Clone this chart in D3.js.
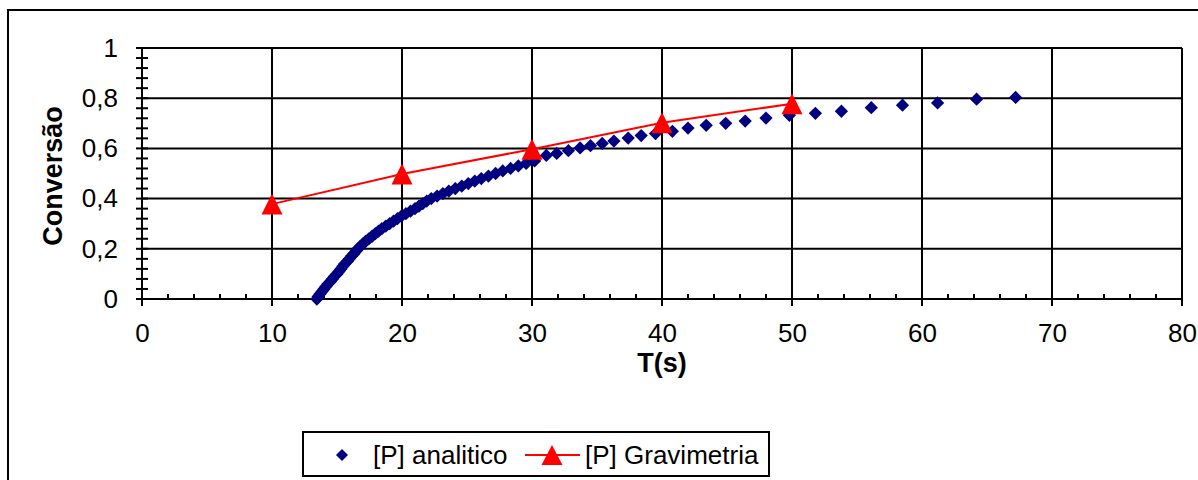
<!DOCTYPE html>
<html>
<head>
<meta charset="utf-8">
<script src="https://cdn.jsdelivr.net/npm/d3@7"></script>
<style>
  body { margin: 0; background: #fff; }
  text { font-family: "Liberation Sans", Arial, sans-serif; }
</style>
</head>
<body>
<div id="chart"></div>
<script>
// data
var analiticoT = [13.45, 13.55, 13.7, 13.85, 14.0, 14.15, 14.3, 14.5, 14.65, 14.8,
  15.0, 15.15, 15.3, 15.45, 15.6, 15.8, 15.95, 16.1, 16.3, 16.45,
  16.6, 16.8, 17.0, 17.2, 17.45, 17.7, 17.95, 18.2, 18.45, 18.75,
  19.05, 19.35, 19.65, 19.95, 20.3, 20.65, 21.0, 21.3, 21.6, 21.9,
  22.25, 22.7, 23.15, 23.6, 24.1, 24.6, 25.1, 25.6, 26.1, 26.65,
  27.2, 27.75, 28.35, 28.95, 29.55, 30.2, 31.1, 31.9, 32.8, 33.7,
  34.5, 35.4, 36.3, 37.4, 38.4, 39.5, 40.8, 42.0, 43.4, 44.9,
  46.4, 48.0, 49.8, 51.8, 53.8, 56.1, 58.5, 61.2, 64.2, 67.2];
var analiticoC = [0.0, 0.01, 0.02, 0.03, 0.04, 0.05, 0.06, 0.07, 0.08, 0.09,
  0.10, 0.11, 0.12, 0.13, 0.14, 0.15, 0.16, 0.17, 0.18, 0.19,
  0.20, 0.21, 0.22, 0.23, 0.24, 0.25, 0.26, 0.27, 0.28, 0.29,
  0.30, 0.31, 0.32, 0.33, 0.34, 0.35, 0.36, 0.37, 0.38, 0.39,
  0.40, 0.41, 0.42, 0.43, 0.44, 0.45, 0.46, 0.47, 0.48, 0.49,
  0.50, 0.51, 0.52, 0.53, 0.54, 0.55, 0.572, 0.580, 0.591, 0.602,
  0.611, 0.620, 0.629, 0.641, 0.651, 0.659, 0.668, 0.681, 0.692, 0.700,
  0.709, 0.721, 0.732, 0.740, 0.748, 0.762, 0.772, 0.781, 0.796, 0.803];

var gravT = [10, 20, 30, 40, 50];
var gravC = [0.378, 0.498, 0.597, 0.702, 0.778];

var xTicks = [0, 10, 20, 30, 40, 50, 60, 70, 80];
var yTicks = [0, 0.2, 0.4, 0.6, 0.8, 1];

var W = 1198, H = 480;
var plot = {left: 142, right: 1182, top: 48, bottom: 299};

var svg = d3.select("#chart").append("svg")
  .attr("width", W).attr("height", H);

// outer chart frame (runs off right/bottom)
svg.append("rect")
  .attr("x", 8).attr("y", 10)
  .attr("width", W + 20).attr("height", H + 20)
  .attr("fill", "#fff").attr("stroke", "#000").attr("stroke-width", 2);

var x = d3.scaleLinear().domain([0, 80]).range([plot.left, plot.right]);
var y = d3.scaleLinear().domain([0, 1]).range([plot.bottom, plot.top]);

// gridlines
svg.append("g").selectAll("line").data(yTicks).enter().append("line")
  .attr("x1", plot.left).attr("x2", plot.right)
  .attr("y1", d => y(d)).attr("y2", d => y(d))
  .attr("stroke", "#000").attr("stroke-width", 2);
svg.append("g").selectAll("line").data(xTicks).enter().append("line")
  .attr("x1", d => x(d)).attr("x2", d => x(d))
  .attr("y1", plot.top).attr("y2", plot.bottom)
  .attr("stroke", "#000").attr("stroke-width", 2);

// x axis: minor ticks inward, labels below
var xMinor = d3.range(0, 81, 2);
svg.append("g").selectAll("line").data(xMinor).enter().append("line")
  .attr("x1", d => x(d)).attr("x2", d => x(d))
  .attr("y1", plot.bottom - 5).attr("y2", d => d % 10 === 0 ? plot.bottom + 7 : plot.bottom)
  .attr("stroke", "#000").attr("stroke-width", 2);

var xAxis = d3.axisBottom(x).tickValues(xTicks).tickSize(0).tickPadding(0)
  .tickFormat(d3.format("d"));
svg.append("g")
  .attr("transform", "translate(0," + plot.bottom + ")")
  .call(xAxis)
  .call(g => g.select(".domain").remove())
  .call(g => g.selectAll("text").attr("font-size", 26).attr("fill", "#000")
    .attr("dy", null).attr("y", 43));

// y axis: minor ticks crossing the axis
var yMinor = d3.range(0, 26).map(i => i * 0.04);
svg.append("g").selectAll("line").data(yMinor).enter().append("line")
  .attr("x1", plot.left - 6).attr("x2", plot.left + 6)
  .attr("y1", d => y(d)).attr("y2", d => y(d))
  .attr("stroke", "#000").attr("stroke-width", 2);

var yAxis = d3.axisLeft(y).tickValues(yTicks).tickSize(0).tickPadding(24)
  .tickFormat(d => d3.format("")(d).replace(".", ","));
svg.append("g")
  .attr("transform", "translate(" + plot.left + ",0)")
  .call(yAxis)
  .call(g => g.select(".domain").remove())
  .call(g => g.selectAll("text").attr("font-size", 26).attr("fill", "#000"));

// axis titles
svg.append("text")
  .attr("x", (plot.left + plot.right) / 2).attr("y", 372)
  .attr("text-anchor", "middle")
  .attr("font-size", 27).attr("font-weight", "bold")
  .text("T(s)");
svg.append("text")
  .attr("transform", "translate(62," + 176 + ") rotate(-90)")
  .attr("text-anchor", "middle")
  .attr("font-size", 27).attr("font-weight", "bold")
  .text("Conversão");

// analitico diamonds
var analitico = analiticoT.map((t, i) => ({t: t, c: analiticoC[i]}));
var diamond = d3.symbol().type(d3.symbolSquare).size(88);
svg.append("g").selectAll("path").data(analitico).enter().append("path")
  .attr("d", diamond)
  .attr("transform", d => "translate(" + x(d.t) + "," + y(d.c) + ") rotate(45)")
  .attr("fill", "#000080");

// gravimetria line + triangles
var grav = gravT.map((t, i) => ({t: t, c: gravC[i]}));
svg.append("path")
  .datum(grav)
  .attr("d", d3.line().x(d => x(d.t)).y(d => y(d.c)))
  .attr("fill", "none").attr("stroke", "#ff0000").attr("stroke-width", 2);

function tri(cx, cy, w, h) {
  return "M" + cx + "," + (cy - h / 2) + "L" + (cx + w / 2) + "," + (cy + h / 2) +
    "L" + (cx - w / 2) + "," + (cy + h / 2) + "Z";
}
svg.append("g").selectAll("path").data(grav).enter().append("path")
  .attr("d", d => tri(x(d.t), y(d.c), 21, 21))
  .attr("fill", "#ff0000");

// legend
var leg = svg.append("g");
leg.append("rect")
  .attr("x", 303).attr("y", 432).attr("width", 466).attr("height", 44)
  .attr("fill", "#fff").attr("stroke", "#000").attr("stroke-width", 2);
leg.append("path")
  .attr("d", d3.symbol().type(d3.symbolSquare).size(72))
  .attr("transform", "translate(342,455) rotate(45)")
  .attr("fill", "#000080");
leg.append("text").attr("x", 373).attr("y", 464)
  .attr("font-size", 26).text("[P] analitico");
leg.append("line")
  .attr("x1", 525).attr("x2", 580).attr("y1", 455).attr("y2", 455)
  .attr("stroke", "#ff0000").attr("stroke-width", 2);
leg.append("path").attr("d", tri(552, 455, 21, 20)).attr("fill", "#ff0000");
leg.append("text").attr("x", 585).attr("y", 464)
  .attr("font-size", 26).text("[P] Gravimetria");
</script>
</body>
</html>
